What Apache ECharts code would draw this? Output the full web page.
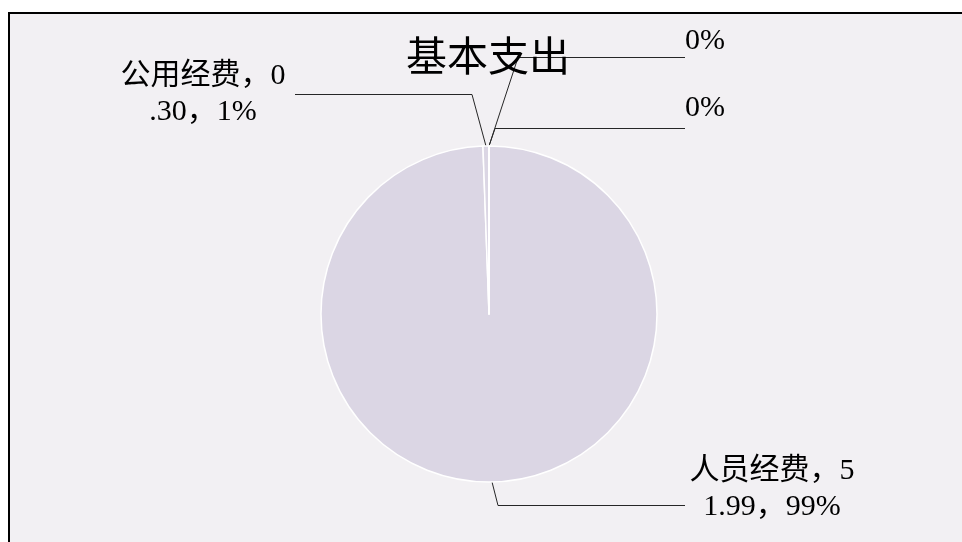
<!DOCTYPE html>
<html>
<head>
<meta charset="utf-8">
<script src="https://cdn.jsdelivr.net/npm/echarts@6/dist/echarts.min.js"></script>
<style>
html,body{margin:0;padding:0;background:#fff;}
#chart{width:962px;height:542px;}
</style>
</head>
<body>
<div id="chart"></div>
<script>
// ---- data ----
const chartTitle = '基本支出';
const categories = ['人员经费', '公用经费', '', ''];
const values = [51.99, 0.30, 0, 0];

// ---- chart ----
const cx = 489, cy = 314, R = 168;
const FONT = '"Liberation Serif", "Noto Sans CJK SC", serif';
const BG = '#F2F0F3';
const PIE = '#DBD6E4';

// label anchor spots (label placement only)
const spots = [
  { x: 772, y: 489, align: 'center', bend: [498, 505.5], end: [685, 505.5] },
  { x: 203, y: 94, align: 'center', bend: [472, 94.5], end: [295, 94.5] },
  { x: 685, y: 41, align: 'left', bend: [518, 57.5], end: [685, 57.5] },
  { x: 685, y: 108, align: 'left', bend: [495, 128.5], end: [685, 128.5] }
];

const chart = echarts.init(document.getElementById('chart'), null, { renderer: 'canvas' });
chart.setOption({
  animation: false,
  backgroundColor: '#ffffff',
  graphic: [{
    type: 'rect', z: -10, silent: true,
    shape: { x: 9, y: 13, width: 1000, height: 600 },
    style: { fill: BG, stroke: '#000', lineWidth: 2 }
  }],
  title: {
    text: chartTitle,
    left: 401, top: 35,
    textStyle: { fontFamily: FONT, fontSize: 41, fontWeight: 'normal', color: '#000' }
  },
  series: [{
    type: 'pie',
    center: [cx, cy],
    radius: R,
    startAngle: 90,
    clockwise: true,
    percentPrecision: 0,
    avoidLabelOverlap: false,
    minShowLabelAngle: 0,
    data: categories.map((n, i) => ({ name: n, value: values[i] })),
    itemStyle: { color: PIE, borderColor: '#ffffff', borderWidth: 1.5 },
    label: {
      show: true,
      fontFamily: FONT,
      fontSize: 30,
      lineHeight: 36,
      color: '#000',
      formatter: function (p) {
        if (!p.name) return p.percent + '%';
        const s = p.name + '，' + p.value.toFixed(2) + '，' + p.percent + '%';
        return s.slice(0, 6) + '\n' + s.slice(6);
      }
    },
    labelLine: { show: true, lineStyle: { color: '#262626', width: 1 } },
    labelLayout: function (p) {
      const sp = spots[p.dataIndex];
      const start = (p.labelLinePoints && p.labelLinePoints[0]) || [cx, cy - R];
      return {
        x: sp.x, y: sp.y, align: sp.align, verticalAlign: 'middle',
        labelLinePoints: [start, sp.bend, sp.end]
      };
    },
    emphasis: { disabled: true }
  }]
});
</script>
</body>
</html>
